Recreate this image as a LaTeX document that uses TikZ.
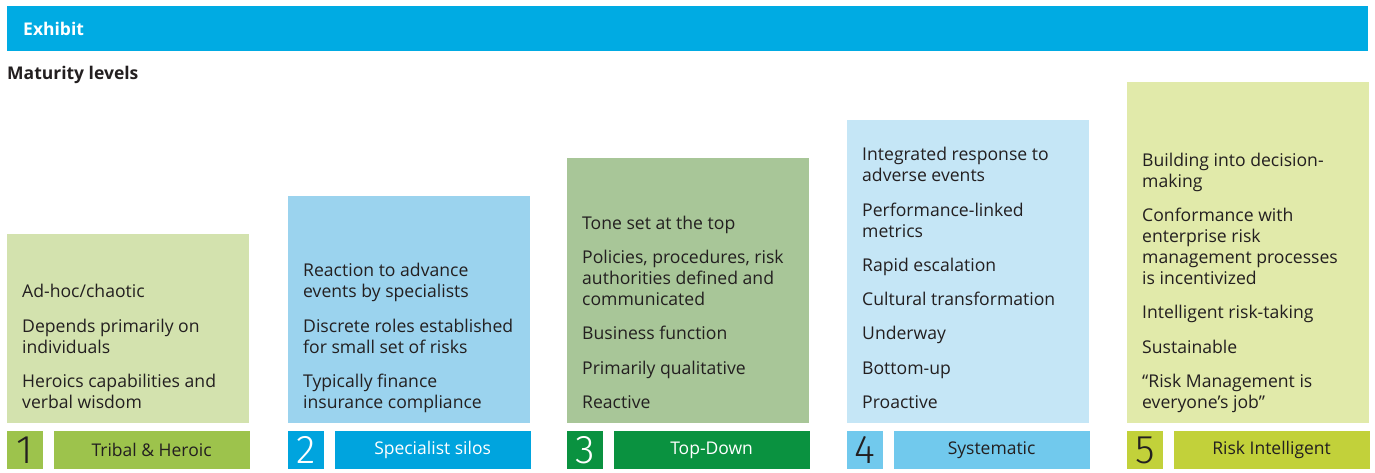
\documentclass[tikz,border=0pt]{standalone}
\usepackage{fontspec}
\setmainfont{Open Sans}
\newfontfamily\numfont{Fira Sans Light}
\usetikzlibrary{positioning}

\definecolor{exhibitblue}{RGB}{0,171,227}
\definecolor{inkdark}{RGB}{35,31,32}
\definecolor{lvlAbg}{RGB}{211,226,174}
\definecolor{lvlBbg}{RGB}{155,211,238}
\definecolor{lvlCbg}{RGB}{168,198,152}
\definecolor{lvlDbg}{RGB}{197,230,246}
\definecolor{lvlEbg}{RGB}{225,234,170}
\definecolor{lvlA}{RGB}{157,195,76}
\definecolor{lvlB}{RGB}{0,164,222}
\definecolor{lvlC}{RGB}{10,146,64}
\definecolor{lvlD}{RGB}{113,201,237}
\definecolor{lvlE}{RGB}{194,209,58}

\begin{document}
\begin{tikzpicture}[x=1pt,y=-1pt,
  level node/.style={anchor=south west,minimum width=242pt,inner sep=0pt},
  item node/.style={anchor=south west,inner sep=0pt,align=left,text=inkdark,
    font=\fontsize{17.6}{21}\selectfont},
  num node/.style={anchor=north west,minimum width=36pt,minimum height=38pt,inner sep=0pt,
    font=\numfont\fontsize{40}{40}\selectfont},
  name node/.style={minimum width=196pt,minimum height=38pt,inner sep=0pt,
    font=\fontsize{17.5}{20}\selectfont}]

  \useasboundingbox (0,0) rectangle (1375,472);

  % header
  \node[anchor=north west,fill=exhibitblue,minimum width=1361pt,minimum height=45pt,
    text width=1329pt,inner xsep=16pt,align=left,text=white,
    font=\bfseries\fontsize{17.5}{20}\selectfont] (exhibit) at (7,6) {Exhibit};
  \node[anchor=west,inner sep=0pt,text=inkdark,font=\bfseries\fontsize{17.5}{20}\selectfont]
    (title) at (7,75) {Maturity levels};

  % level boxes
  \node[level node,fill=lvlAbg,minimum height=189pt] (l1) at (7,423) {};
  \node[level node,fill=lvlBbg,minimum height=227pt] (l2) at (288,423) {};
  \node[level node,fill=lvlCbg,minimum height=265pt] (l3) at (567,423) {};
  \node[level node,fill=lvlDbg,minimum height=303pt] (l4) at (847,423) {};
  \node[level node,fill=lvlEbg,minimum height=341pt] (l5) at (1127,423) {};

  \node[item node] (t1) at ([xshift=15pt,yshift=8pt]l1.south west)
    {Ad-hoc/chaotic\\[13.3pt]Depends primarily on\\individuals\\[13.3pt]Heroics capabilities and\\verbal wisdom\strut};
  \node[item node] (t2) at ([xshift=15pt,yshift=8pt]l2.south west)
    {Reaction to advance\\events by specialists\\[13.3pt]Discrete roles established\\for small set of risks\\[13.3pt]Typically finance\\insurance compliance\strut};
  \node[item node] (t3) at ([xshift=15pt,yshift=8pt]l3.south west)
    {Tone set at the top\\[13.3pt]Policies, procedures, risk\\authorities defined and\\communicated\\[13.3pt]Business function\\[13.3pt]Primarily qualitative\\[13.3pt]Reactive\strut};
  \node[item node] (t4) at ([xshift=15pt,yshift=8pt]l4.south west)
    {Integrated response to\\adverse events\\[13.3pt]Performance-linked\\metrics\\[13.3pt]Rapid escalation\\[13.3pt]Cultural transformation\\[13.3pt]Underway\\[13.3pt]Bottom-up\\[13.3pt]Proactive\strut};
  \node[item node] (t5) at ([xshift=15pt,yshift=8pt]l5.south west)
    {Building into decision-\\making\\[13.3pt]Conformance with\\enterprise risk\\management processes\\is incentivized\\[13.3pt]Intelligent risk-taking\\[13.3pt]Sustainable\\[13.3pt]“Risk Management is\\everyone’s job”\strut};

  % level names
  \node[num node,fill=lvlA,text=inkdark] (n1) at (7,431) {1};
  \node[name node,fill=lvlA,text=inkdark,right=10pt of n1] (m1) {Tribal \& Heroic};
  \node[num node,fill=lvlB,text=white] (n2) at (288,431) {2};
  \node[name node,fill=lvlB,text=white,right=10pt of n2] (m2) {Specialist silos};
  \node[num node,fill=lvlC,text=white] (n3) at (567,431) {3};
  \node[name node,fill=lvlC,text=white,right=10pt of n3] (m3) {Top-Down};
  \node[num node,fill=lvlD,text=inkdark] (n4) at (847,431) {4};
  \node[name node,fill=lvlD,text=inkdark,right=10pt of n4] (m4) {Systematic};
  \node[num node,fill=lvlE,text=inkdark] (n5) at (1127,431) {5};
  \node[name node,fill=lvlE,text=inkdark,right=10pt of n5] (m5) {Risk Intelligent};
\end{tikzpicture}
\end{document}
